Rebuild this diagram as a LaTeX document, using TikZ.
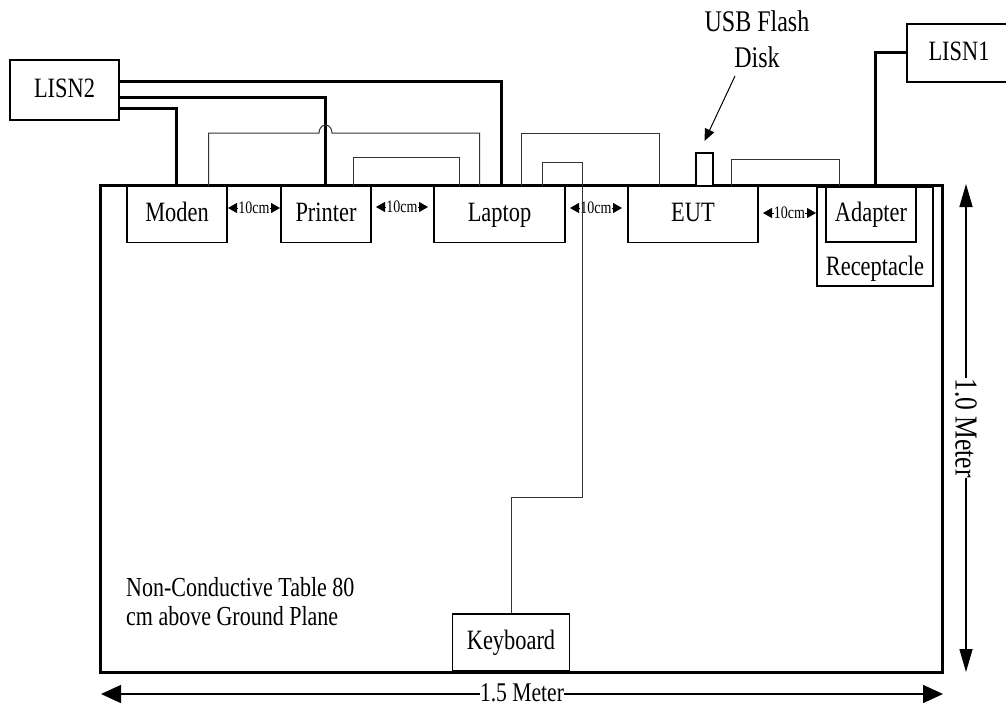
\documentclass[tikz,border=0pt]{standalone}
\usepackage{fontspec}
\setmainfont[FakeStretch=.8]{Liberation Serif}
\usetikzlibrary{arrows.meta}
\tikzset{unit/.style={draw,line width=1.2pt,inner sep=0pt,text height=19pt,text depth=5pt,font=\fontsize{28}{30}\selectfont},
  lbl/.style={inner sep=0pt,text height=19pt,text depth=5pt,font=\fontsize{28}{30}\selectfont},
  usblbl/.style={inner sep=0pt,text height=20pt,text depth=6pt,font=\fontsize{30}{32}\selectfont},
  notelbl/.style={inner sep=0pt,anchor=west,text height=18pt,text depth=5pt,font=\fontsize{27.5}{30}\selectfont},
  pwr/.style={line width=3pt},sig/.style={line width=1pt,draw=black!80},
  gap/.style={line width=.8pt,{Triangle[length=9pt,width=10pt]}-{Triangle[length=9pt,width=10pt]}},
  vspan/.style={line width=1.5pt,{Triangle[length=23pt,width=13pt]}-{Triangle[length=23pt,width=13pt]}},
  hspan/.style={line width=1.5pt,{Triangle[length=20pt,width=18pt]}-{Triangle[length=20pt,width=18pt]}},
  gaplbl/.style={fill=white,inner sep=0pt,font=\fontsize{17.5}{20}\selectfont}}
\begin{document}
\begin{tikzpicture}[x=1pt,y=-1pt]
  \useasboundingbox (0,0) rectangle (1006,709);
  \node[draw,line width=3pt,minimum width=842.5pt,minimum height=487pt,inner sep=0pt] (table) at (521.25,429) {};
  \node[unit,minimum width=109pt,minimum height=60pt] (lisn2) at (64.5,90) {LISN2};
  \node[unit,minimum width=104pt,minimum height=58pt] (lisn1) at (959,53) {LISN1};
  \node[unit,minimum width=100pt,minimum height=56pt] (moden) at (177,214.5) {Moden};
  \node[unit,minimum width=90pt,minimum height=56pt] (printer) at (326,214.5) {Printer};
  \node[unit,minimum width=131pt,minimum height=56pt] (laptop) at (499.5,214.5) {Laptop};
  \node[unit,minimum width=130pt,minimum height=56pt] (eut) at (693,214.5) {EUT};
  \node[draw,line width=1.2pt,minimum width=116pt,minimum height=99pt] (recept) at (875,236.5) {};
  \node[lbl] (recepttxt) at (875,268.5) {Receptacle};
  \node[unit,fill=white,minimum width=90pt,minimum height=55pt] (adapter) at (871,214.5) {Adapter};
  \node[unit,fill=white,minimum width=117pt,minimum height=57pt] (keyboard) at (511,642.5) {Keyboard};
  \node[draw,fill=white,line width=1.2pt,minimum width=17pt,minimum height=33pt,inner sep=0pt] (usb) at (704.5,169.5) {};
  \node[usblbl] (usbtxt1) at (757,25) {USB Flash};
  \node[usblbl] (usbtxt2) at (757,60) {Disk};
  \node[notelbl] (note1) at (126,590) {Non-Conductive Table 80};
  \node[notelbl] (note2) at (126,619) {cm above Ground Plane};
  % power cords
  \draw[pwr] ([yshift=9pt]lisn2.east) -| ([xshift=1.5pt]laptop.north);
  \draw[pwr] ([yshift=-7pt]lisn2.east) -| ([xshift=-.5pt]printer.north);
  \draw[pwr] ([yshift=-18pt]lisn2.east) -| ([xshift=-1pt]moden.north);
  \draw[pwr] (lisn1.west) -| ([xshift=4pt]adapter.north);
  % signal cables
  \draw[sig] ([xshift=31.5pt]moden.north) |- (319,133) arc (180:360:6.5 and 8) -- (479.5,133) -- ([xshift=-20pt]laptop.north);
  \draw[sig] ([xshift=27pt]printer.north) |- (459.5,157) -- ([xshift=-40pt]laptop.north);
  \draw[sig] ([xshift=21.5pt]laptop.north) |- (659.5,133) -- ([xshift=-33.5pt]eut.north);
  \draw[sig] ([xshift=42.5pt]laptop.north) |- (582.5,162) |- (511,497) -- (keyboard.north);
  \draw[sig] ([xshift=38.5pt]eut.north) |- (839.5,159) -- ([xshift=-31.5pt]adapter.north);
  \draw[line width=1pt,-{Triangle[length=12pt,width=10pt]}] (735,76) -- (usb.north |- 0,141);
  % spacing between units
  \draw[gap] (228,208) -- node[gaplbl] (gap1) {10cm} (280,208);
  \draw[gap] (376,207) -- node[gaplbl] (gap2) {10cm} (428,207);
  \draw[gap] (570,208) -- node[gaplbl] (gap3) {10cm} (622,208);
  \draw[gap] (763,213) -- node[gaplbl] (gap4) {10cm} (816,213);
  \draw[sig] (582.5,180) -- (582.5,240);
  % table size
  \draw[vspan] (966,184) -- node[inner sep=0pt,fill=white,rotate=-90,text height=21pt,text depth=0pt,font=\fontsize{32}{32}\selectfont] (height) {1.0 Meter} (966,672);
  \draw[hspan] (101,694) -- node[inner sep=0pt,fill=white,text height=19pt,text depth=4pt,font=\fontsize{27}{30}\selectfont] (width) {1.5 Meter} (943,694);
\end{tikzpicture}
\end{document}
